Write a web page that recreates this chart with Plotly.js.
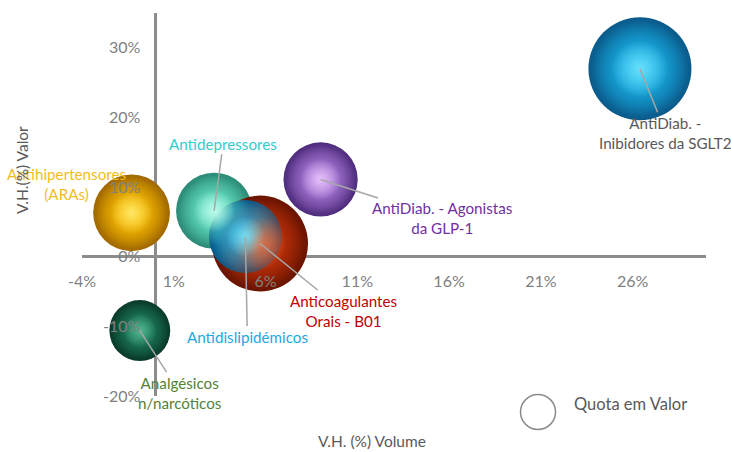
<!DOCTYPE html>
<html>
<head>
<meta charset="utf-8">
<script src="https://cdn.plot.ly/plotly-3.0.1.min.js"></script>
<style>html,body{margin:0;padding:0;background:#fff;}#chart{width:731px;height:452px;}</style>
</head>
<body>
<div id="chart"></div>
<script>
// ---- Data ----
const categories = [
  "Antihipertensores<br>(ARAs)",
  "Antidepressores",
  "Anticoagulantes<br>Orais - B01",
  "Antidislipidémicos",
  "AntiDiab. - Agonistas<br>da GLP-1",
  "AntiDiab. -<br>Inibidores da SGLT2",
  "Analgésicos<br>n/narcóticos"
];
const volumeVH = [-1.3, 3.2, 5.7, 4.9, 9.0, 26.4, -0.85];   // V.H. (%) Volume
const valorVH  = [6.3, 6.6, 1.9, 2.9, 11.1, 27.0, -10.6];    // V.H.(%) Valor
const quotaValor = [5.9, 5.8, 9.2, 5.3, 5.5, 10.6, 3.7];     // Quota em Valor (%)
const xTickVals = [-4, 1, 6, 11, 16, 21, 26];
const xTickText = ["-4%", "1%", "6%", "11%", "16%", "21%", "26%"];
const yTickVals = [-20, -10, 0, 10, 20, 30];
const yTickText = ["-20%", "-10%", "0%", "10%", "20%", "30%"];

// ---- Styles ----
const mainRGB = [[250,188,0],[100,226,196],[202,52,10],[24,178,232],[170,122,218],[24,178,232],[28,124,92]];
const hiRGB   = [[255,238,120],[205,255,240],[240,110,60],[120,232,255],[242,205,255],[120,232,255],[95,195,155]];
const edgeColors = ["#a06800", "#2a8a76", "#6a1400", "#0a5a8a", "#4e2c7c", "#0a5a8a", "#093a28"];
const labelColors = ["#f2bd1d", "#33cccc", "#c00000", "#1ea7e1", "#7030a0", "#595959", "#548235"];
const labelOffsets = [[-65,-29,false],[9,-67,true],[83,67,true],[2,100,true],[121,39,true],[26,64,true],[40,62,true]];

const rgba = (c, a) => `rgba(${c[0]},${c[1]},${c[2]},${a})`;
const maxDiam = 103;
const sizeref = 2 * Math.max(...quotaValor) / (maxDiam * maxDiam);

function layer(scale, edge, center) {
  return {
    type: "scatter", mode: "markers", x: volumeVH, y: valorVH, hoverinfo: "skip",
    marker: {
      size: quotaValor, sizemode: "area", sizeref: sizeref / (scale * scale),
      color: edge, opacity: 1,
      gradient: {type: "radial", color: center},
      line: {width: 0}
    }
  };
}
const traces = [
  layer(1, edgeColors, mainRGB.map(c => rgba(c, 1))),
  layer(0.92, mainRGB.map(c => rgba(c, 0)), mainRGB.map(c => rgba(c, 1))),
  layer(0.55, hiRGB.map(c => rgba(c, 0)), hiRGB.map(c => rgba(c, 0.85)))
];

const font = "Lato, 'Open Sans', sans-serif";
const annotations = categories.map((c, i) => {
  const o = labelOffsets[i];
  const a = {
    x: volumeVH[i], y: valorVH[i], xref: "x", yref: "y",
    text: c, align: "center",
    font: {family: font, size: 15.2, color: labelColors[i]}
  };
  if (o[2]) {
    Object.assign(a, {showarrow: true, ax: o[0], ay: o[1], arrowhead: 0, arrowwidth: 1.5,
      arrowcolor: "#a6a6a6", standoff: 0, startstandoff: 0});
  } else {
    Object.assign(a, {showarrow: false, xshift: o[0], yshift: -o[1]});
  }
  return a;
});
annotations.push(
  {xref: "paper", yref: "paper", x: 0.4647, y: -0.1175, xanchor: "center", yanchor: "middle", borderpad: 0,
   text: "V.H. (%) Volume", showarrow: false, font: {family: font, size: 15.5, color: "#595959"}},
  {xref: "paper", yref: "paper", x: -0.0962, y: 0.59, xanchor: "center", yanchor: "middle",
   text: "V.H.(%) Valor", textangle: -90, showarrow: false, font: {family: font, size: 15.5, color: "#595959"}},
  {xref: "paper", yref: "paper", x: 0.785, y: -0.0209, xanchor: "left", yanchor: "middle", text: "Quota em Valor", showarrow: false,
   font: {family: font, size: 16.5, color: "#595959"}}
);

const xr = [-4, 30], yr = [-20, 35];
const layout = {
  width: 731, height: 452,
  margin: {l: 82, r: 25, t: 13, b: 56},
  paper_bgcolor: "#fff", plot_bgcolor: "#fff",
  showlegend: false,
  xaxis: {
    range: xr, tickmode: "array", tickvals: xTickVals, ticktext: xTickText,
    showgrid: false, showline: false, zeroline: true, zerolinecolor: "#8c8c8c", zerolinewidth: 2.5,
    anchor: "free", position: (0 - yr[0]) / (yr[1] - yr[0]),
    ticks: "", ticklabelstandoff: 13,
    tickfont: {family: font, size: 16, color: "#808080"}, fixedrange: true
  },
  yaxis: {
    range: yr, tickmode: "array", tickvals: yTickVals, ticktext: yTickText,
    showgrid: false, showline: false, zeroline: true, zerolinecolor: "#8c8c8c", zerolinewidth: 2.5,
    anchor: "free", position: (0 - xr[0]) / (xr[1] - xr[0]),
    ticks: "", ticklabelstandoff: 15,
    tickfont: {family: font, size: 16, color: "#808080"}, fixedrange: true
  },
  shapes: [{
    type: "circle", xref: "paper", yref: "paper", xsizemode: "pixel", ysizemode: "pixel",
    xanchor: 0.7308, yanchor: -0.0418, x0: -17.5, x1: 17.5, y0: -17.5, y1: 17.5,
    line: {color: "#8c8c8c", width: 1.5}, fillcolor: "rgba(255,255,255,0)"
  }],
  annotations: annotations
};

Plotly.newPlot("chart", traces, layout, {displayModeBar: false, staticPlot: true});
</script>
</body>
</html>
